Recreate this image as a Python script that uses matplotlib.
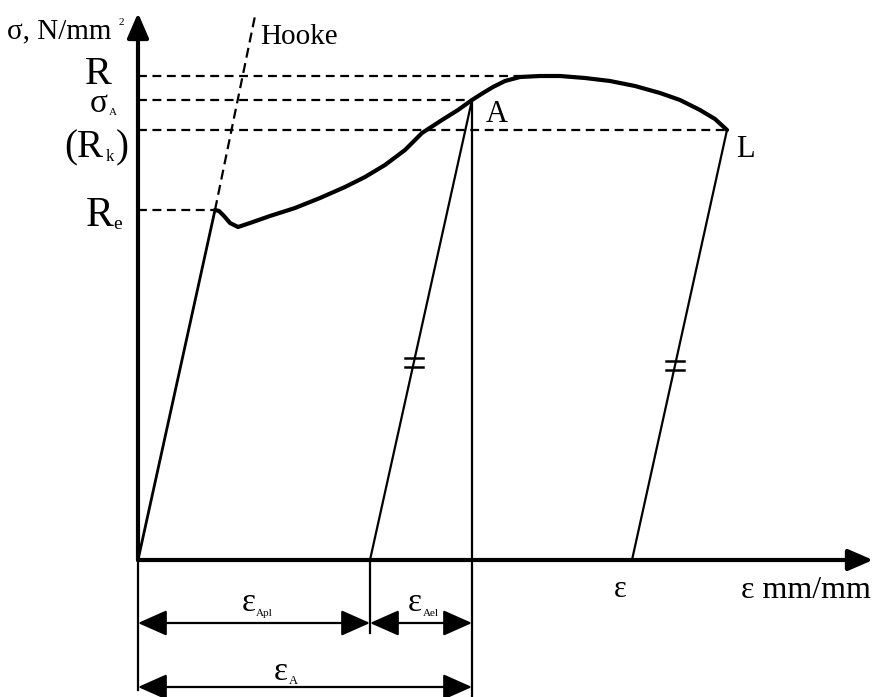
import matplotlib.pyplot as plt
import numpy as np

plt.rcParams['font.family'] = ['Liberation Serif', 'DejaVu Serif']

# Stress-strain curve (strain in mm/mm, stress in N/mm2, schematic values)
strain = [0.0, 0.077, 0.081, 0.086, 0.092, 0.100, 0.112, 0.132, 0.157, 0.182,
          0.207, 0.227, 0.247, 0.267, 0.284, 0.304, 0.320, 0.334, 0.345, 0.355,
          0.367, 0.382, 0.402, 0.422, 0.447, 0.472, 0.497, 0.522, 0.542, 0.562,
          0.577, 0.589]
stress = [0, 350, 349, 344, 337, 333, 337, 344, 352, 362,
          373, 383, 395, 410, 427, 440, 450, 460, 467, 473,
          479, 483, 484, 484, 482, 479, 474, 467, 460, 450,
          441, 430]

# characteristic levels
R_val, sigA_val, Rk_val, Re_val = 484, 460, 430, 350
eps_Re = 0.077
eps_A, eps_L, eps_R = 0.334, 0.589, 0.382
eps_Apl, eps_res = 0.232, 0.494     # residual strain after unloading from A and L
hooke_strain = [0.077, 0.117]
hooke_stress = [350, 544]

fig = plt.figure(figsize=(8.77, 6.97), dpi=100)
ax = fig.add_axes([0, 0, 1, 1])
ax.set_xlim(-0.138, 0.739)
ax.set_ylim(-137, 560)
ax.axis('off')

def px(x, y):
    # layout helper: pixel position -> data position
    return (x - 138) / 1000, 560 - y

# axes with arrows
ax.annotate('', xy=(0, 547), xytext=(0, 0),
            arrowprops=dict(arrowstyle='-|>,head_length=15,head_width=6.5', mutation_scale=1,
                            lw=3, color='k', shrinkA=0, shrinkB=0))
ax.annotate('', xy=(0.735, 0), xytext=(0, 0),
            arrowprops=dict(arrowstyle='-|>,head_length=15,head_width=6.5', mutation_scale=1,
                            lw=3, color='k', shrinkA=0, shrinkB=0))

# curve
ax.plot(strain[:2], stress[:2], color='k', lw=2, solid_capstyle='round')
ax.plot(strain[1:], stress[1:], color='k', lw=3, solid_joinstyle='round', solid_capstyle='round')

# Hooke line
ax.plot(hooke_strain, hooke_stress, color='k', lw=1.6, ls=(0, (4.5, 2.5)))

# dashed level lines
dash = (0, (4, 2.5))
ax.plot([0, eps_R], [R_val, R_val], color='k', lw=1.6, ls=dash)
ax.plot([0, eps_A], [sigA_val, sigA_val], color='k', lw=1.6, ls=dash)
ax.plot([0, eps_L], [Rk_val, Rk_val], color='k', lw=1.6, ls=dash)
ax.plot([0, eps_Re], [Re_val, Re_val], color='k', lw=1.6, ls=dash)

# unloading lines
unA_x, unA_y = [eps_A, eps_Apl], [sigA_val, 0]
unL_x, unL_y = [eps_L, eps_res], [Rk_val, 0]
ax.plot(unA_x, unA_y, color='k', lw=1.6)
ax.plot(unL_x, unL_y, color='k', lw=1.6)

# equal-slope marks
for lx, ly, s in [(unA_x, unA_y, 198), (unL_x, unL_y, 195)]:
    xc = np.interp(s, ly[::-1], lx[::-1])
    for d in (-4.5, 4.5):
        ax.plot([xc - 0.009, xc + 0.009], [s + d, s + d], color='k', lw=1.8)

# vertical extension lines
ax.plot([eps_A, eps_A], [sigA_val, -137], color='k', lw=1.6)
ax.plot([0, 0], [0, -130], color='k', lw=1.6)
ax.plot([eps_Apl, eps_Apl], [0, -73], color='k', lw=1.6)

# dimension arrows
def dim(x0, x1, y):
    ax.annotate('', xy=(x1, y), xytext=(x0, y),
                arrowprops=dict(arrowstyle='<|-|>,head_length=18,head_width=8', mutation_scale=1,
                                lw=1.6, color='k', shrinkA=0, shrinkB=0))

dim(0, eps_Apl, -63)
dim(eps_Apl, eps_A, -63)
dim(0, eps_A, -127)

# labels
def txt(x, y, s, size, ha='left'):
    ax.text(*px(x, y), s, fontsize=size, ha=ha, va='baseline', color='k')

txt(7, 38, 'σ, N/mm', 21)
txt(119, 25, '2', 8)
txt(260, 44, 'Hooke', 21)
txt(98, 84, 'R', 29, ha='center')
txt(99, 112, 'σ', 24, ha='center')
txt(109, 115, 'A', 8)
txt(64, 157, '(R', 28)
txt(106, 161, 'k', 12)
txt(116, 157, ')', 28)
txt(100, 226, 'R', 30, ha='center')
txt(113, 229, 'e', 14)
txt(486, 122, 'A', 22)
txt(736, 157, 'L', 22)
txt(620, 597, 'ε', 22, ha='center')
txt(741, 598, 'ε mm/mm', 23)
txt(249, 611, 'ε', 24, ha='center')
txt(256, 616, 'Apl', 8)
txt(415, 611, 'ε', 24, ha='center')
txt(423, 616, 'Ael', 8)
txt(281, 680, 'ε', 24, ha='center')
txt(289, 684, 'A', 9)

plt.savefig('out.png', dpi=100)
